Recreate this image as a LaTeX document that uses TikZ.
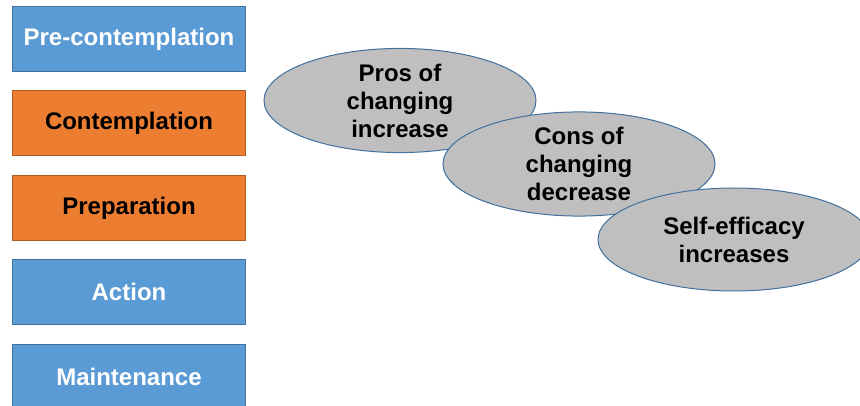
\documentclass[tikz,border=0pt]{standalone}
\usepackage{fontspec}
\setmainfont{Liberation Sans}
\usetikzlibrary{positioning, shapes.geometric}
\definecolor{stageblue}{HTML}{5B9BD5}
\definecolor{stageborder}{HTML}{41719C}
\definecolor{stageorange}{HTML}{ED7D31}
\definecolor{orangeborder}{HTML}{AE5A21}
\definecolor{balancegray}{HTML}{BFBFBF}

\begin{document}
\begin{tikzpicture}[x=1pt, y=-1pt, node distance=84.4pt,
	font=\fontsize{24}{28}\selectfont\bfseries]
	\tikzstyle{stage}=[rectangle, minimum width=233pt, minimum height=65pt,
		inner sep=0pt, line width=1pt, fill=stageblue, draw=stageborder, text=white]
	\tikzstyle{active stage}=[stage, fill=stageorange, draw=orangeborder, text=black]
	\tikzstyle{balance}=[ellipse, minimum width=272pt, minimum height=103pt,
		inner sep=0pt, line width=1pt, fill=balancegray, draw=stageborder,
		text=black, align=center]

	\useasboundingbox (0,0) rectangle (860,406);
	\clip (0,0) rectangle (860,406);

		\node[stage] (pre) at (129,39) {Pre-contemplation};
		\node[active stage] (contemp) [below of=pre] {Contemplation};
		\node[active stage] (prep) [below of=contemp] {Preparation};
		\node[stage] (action) [below of=prep] {Action};
		\node[stage] (maint) [below of=action] {Maintenance};

		\node[balance] (pros) at (400,100.5) {Pros of\\changing\\increase};
		\node[balance] (cons) at (579,164) {Cons of\\changing\\decrease};
		\node[balance] (efficacy) at (734,239.5) {Self-efficacy\\increases};
	\end{tikzpicture}
\end{document}
